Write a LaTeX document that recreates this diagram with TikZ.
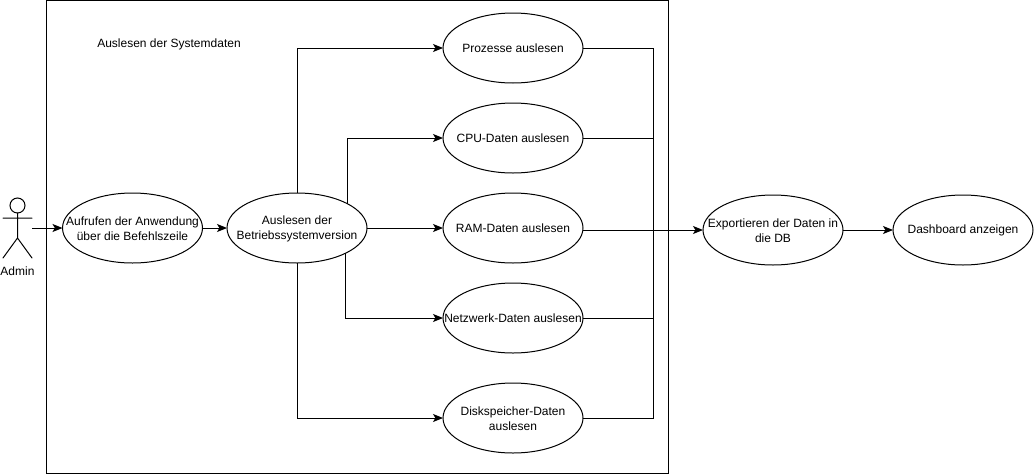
\documentclass[tikz,border=0pt]{standalone}
\usepackage{fontspec}
\setmainfont{Liberation Sans}
\usetikzlibrary{shapes.geometric,arrows.meta}
\tikzset{
  usecase/.style={ellipse,draw=black,line width=0.75pt,minimum width=105pt,minimum height=52.5pt,inner sep=0pt,outer sep=0pt},
  casetext/.style={inner sep=0pt,outer sep=0pt,align=center,font=\fontsize{9}{11.25}\selectfont},
  label text/.style={inner sep=0pt,outer sep=0pt,font=\fontsize{9}{11}\selectfont},
  conn/.style={line width=0.75pt,-{Stealth[length=7.5pt,width=6pt,inset=1.8pt]}},
  plainconn/.style={line width=0.75pt},
  actorline/.style={line width=0.75pt,line cap=round}
}
\begin{document}
\begin{tikzpicture}[x=0.75pt,y=-0.75pt]
\useasboundingbox (0,0) rectangle (1034,475);
\node[draw=black,line width=0.75pt,minimum width=466.5pt,minimum height=354.75pt,inner sep=0pt,outer sep=0pt] (frame) at (357.3,236.9) {};
\node[label text] (title) at (169,44.5) {Auslesen der Systemdaten};
% actor
\node[circle,draw=black,line width=0.75pt,minimum size=11.25pt,inner sep=0pt,outer sep=0pt] (head) at (17.5,205.5) {};
\coordinate (hip) at (17.5,238);
\coordinate (armL) at (3,218);
\coordinate (armR) at (32,218);
\coordinate (legL) at (3,258);
\coordinate (legR) at (32,258);
\coordinate (actorout) at (32,228);
\draw[actorline] (head.south) -- (hip) (armL) -- (armR) (legL) -- (hip) -- (legR);
\node[label text] (admin) at (17.5,271) {Admin};
% use cases
\node[usecase,label={[casetext,yshift=-0.4pt]center:{Aufrufen der Anwendung\\über die Befehlszeile}}] (call) at (132.5,228) {};
\node[usecase,label={[casetext,yshift=-0.4pt]center:{Auslesen der\\Betriebssystemversion}}] (os) at (297,228) {};
\node[usecase,label={[casetext]center:{Prozesse auslesen}}] (proc) at (513,48) {};
\node[usecase,label={[casetext]center:{CPU-Daten auslesen}}] (cpu) at (513,138) {};
\node[usecase,label={[casetext]center:{RAM-Daten auslesen}}] (ram) at (513,228) {};
\node[usecase,label={[casetext]center:{Netzwerk-Daten auslesen}}] (net) at (513,318) {};
\node[usecase,label={[casetext,yshift=-0.4pt]center:{Diskspeicher-Daten\\auslesen}}] (disk) at (513,418) {};
\node[usecase,label={[casetext,yshift=-0.4pt]center:{Exportieren der Daten in\\die DB}}] (db) at (773,230) {};
\node[usecase,label={[casetext]center:{Dashboard anzeigen}}] (dash) at (963,230) {};
% connectors
\draw[conn] (actorout) -- (call.west);
\draw[conn] (call.east) -- (os.west);
\coordinate (oscpu) at (347,203.5);
\coordinate (osnet) at (345.5,252.5);
\draw[conn] (os.north) |- (proc.west);
\draw[conn] (oscpu) |- (cpu.west);
\draw[conn] (os.east) -- (ram.west);
\draw[conn] (osnet) |- (net.west);
\draw[conn] (os.south) |- (disk.west);
\coordinate (bustop) at (653.5,48);
\coordinate (busbot) at (653.5,418);
\coordinate (ramout) at (583,230);
\draw[plainconn] (proc.east) -- (bustop) -- (busbot) -- (disk.east);
\draw[plainconn] (cpu.east) -- (cpu.east -| bustop);
\draw[plainconn] (net.east) -- (net.east -| bustop);
\draw[conn] (ramout) -- (db.west);
\draw[conn] (db.east) -- (dash.west);
\end{tikzpicture}
\end{document}
